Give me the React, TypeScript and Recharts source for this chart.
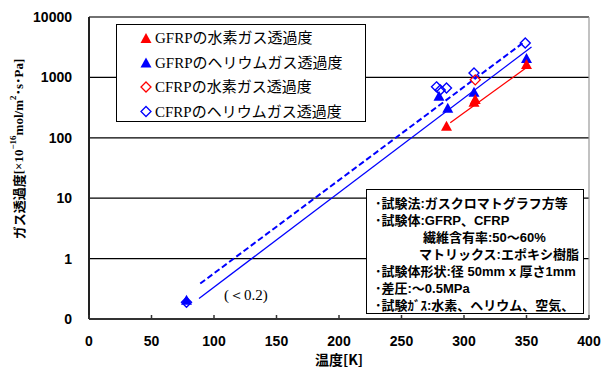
import { ComposedChart, Line, Scatter, XAxis, YAxis, CartesianGrid, Legend, ReferenceLine } from 'recharts'

const RED = '#ff0000'
const BLUE = '#0000ff'

// temperature [K] / permeability [x1e-16 mol/m2.s.Pa]
const gfrpH2Temp = [286, 308, 309, 350]
const gfrpH2Perm = [152, 379, 424, 1610]

const gfrpHeTemp = [78, 280, 287, 308, 350]
const gfrpHePerm = [0.2, 476, 302, 555, 2020]

const cfrpH2Temp = [309]
const cfrpH2Perm = [910]

const cfrpHeTemp = [78, 278, 281, 286, 308, 349]
const cfrpHePerm = [0.19, 697, 621, 670, 1186, 3720]

// fitted trend lines (end points)
const fitHeCfrpTemp = [89, 347]
const fitHeCfrpPerm = [0.386, 3700]
const fitHeGfrpTemp = [88, 354]
const fitHeGfrpPerm = [0.218, 3190]
const fitH2GfrpTemp = [289, 352]
const fitH2GfrpPerm = [177, 1560]

const xTicks = [0, 50, 100, 150, 200, 250, 300, 350, 400]
const yTicks = [0.1, 1, 10, 100, 1000, 10000]

const legendItems = [
  { name: 'GFRPの水素ガス透過度', color: RED, shape: 'tri' },
  { name: 'GFRPのヘリウムガス透過度', color: BLUE, shape: 'tri' },
  { name: 'CFRPの水素ガス透過度', color: RED, shape: 'dia' },
  { name: 'CFRPのヘリウムガス透過度', color: BLUE, shape: 'dia' },
]

const noteLines = [
  { text: '･試験法:ガスクロマトグラフ方等', indent: 0 },
  { text: '･試験体:GFRP、CFRP', indent: 0 },
  { text: '繊維含有率:50～60%', indent: 48 },
  { text: 'マトリックス:エポキシ樹脂', indent: 44 },
  { text: '･試験体形状:径 50mm x 厚さ1mm', indent: 0 },
  { text: '･差圧:～0.5MPa', indent: 0 },
  { text: '･試験ｶﾞｽ:水素、ヘリウム、空気、', indent: 0 },
]

const zip = (ts: number[], vs: number[]) => ts.map((t, i) => ({ t, v: vs[i] }))

const triPoints = (cx: number, cy: number) =>
  `${cx},${cy - 6} ${cx - 5.5},${cy + 4} ${cx + 5.5},${cy + 4}`
const diaPoints = (cx: number, cy: number) =>
  `${cx},${cy - 5} ${cx + 5},${cy} ${cx},${cy + 5} ${cx - 5},${cy}`

const makeTri = (color: string) => (p: any) => <polygon points={triPoints(p.cx, p.cy)} fill={color} />
const makeDia = (color: string) => (p: any) => (
  <polygon points={diaPoints(p.cx, p.cy)} fill="none" stroke={color} strokeWidth={1.4} />
)

function XTick({ x, y, payload }: any) {
  return (
    <g>
      <line x1={x} x2={x} y1={y} y2={y - 4} stroke="#333" strokeWidth={1.5} />
      <text x={x} y={y + 27} textAnchor="middle" fontSize={14} fontWeight="bold" fontFamily="'Liberation Sans', Arial, sans-serif" fill="#000">
        {payload.value}
      </text>
    </g>
  )
}

function LegendBox() {
  return (
    <div style={{ width: 250, height: 98, border: '1px solid #000', background: '#fff', boxSizing: 'border-box' }}>
      <svg width={248} height={96}>
        {legendItems.map((it, i) => {
          const cy = 13 + i * 24.5
          return (
            <g key={it.name}>
              {it.shape === 'tri' ? (
                <polygon points={triPoints(29, cy + 1)} fill={it.color} />
              ) : (
                <polygon points={diaPoints(29, cy)} fill="none" stroke={it.color} strokeWidth={1.3} />
              )}
              <text x={38} y={cy} dominantBaseline="central" fontSize={15} fontFamily="'Liberation Serif', 'Noto Sans CJK JP', serif" fill="#000">
                {it.name}
              </text>
            </g>
          )
        })}
      </svg>
    </div>
  )
}

export default function App() {
  return (
    <div style={{ position: 'absolute', left: 0, top: 0, width: 601, height: 370, background: '#fff' }}>
      <ComposedChart width={601} height={370} margin={{ top: 17, right: 12, bottom: 0, left: 0 }}>
        <CartesianGrid vertical={false} stroke="#000" strokeWidth={1.2} />
        <XAxis
          type="number"
          dataKey="t"
          domain={[0, 400]}
          ticks={xTicks}
          height={51}
          tickSize={0}
          tickMargin={0}
          tickLine={false}
          axisLine={{ stroke: '#333', strokeWidth: 2 }}
          tick={<XTick />}
          interval={0}
        />
        <YAxis
          type="number"
          scale="log"
          domain={[0.1, 10000]}
          allowDataOverflow
          ticks={yTicks}
          width={89}
          tickSize={0}
          tickMargin={17}
          tickLine={false}
          interval={0}
          axisLine={{ stroke: '#222', strokeWidth: 2 }}
          tickFormatter={(v: number) => (v === 0.1 ? '0' : String(v))}
          tick={{ fill: '#000', fontSize: 14, fontWeight: 'bold', fontFamily: "'Liberation Sans', Arial, sans-serif" }}
        />
        <ReferenceLine y={10000} stroke="#666" strokeWidth={1.2} />
        <ReferenceLine x={400} stroke="#999" strokeWidth={1.2} />
        <Line data={zip(fitHeCfrpTemp, fitHeCfrpPerm)} dataKey="v" stroke={BLUE} strokeWidth={2} strokeDasharray="6 3" dot={false} isAnimationActive={false} />
        <Line data={zip(fitHeGfrpTemp, fitHeGfrpPerm)} dataKey="v" stroke={BLUE} strokeWidth={1.3} dot={false} isAnimationActive={false} />
        <Line data={zip(fitH2GfrpTemp, fitH2GfrpPerm)} dataKey="v" stroke={RED} strokeWidth={1.3} dot={false} isAnimationActive={false} />
        <Scatter data={zip(cfrpHeTemp, cfrpHePerm)} dataKey="v" shape={makeDia(BLUE)} isAnimationActive={false} />
        <Scatter data={zip(cfrpH2Temp, cfrpH2Perm)} dataKey="v" shape={makeDia(RED)} isAnimationActive={false} />
        <Scatter data={zip(gfrpHeTemp, gfrpHePerm)} dataKey="v" shape={makeTri(BLUE)} isAnimationActive={false} />
        <Scatter data={zip(gfrpH2Temp, gfrpH2Perm)} dataKey="v" shape={makeTri(RED)} isAnimationActive={false} />
        <Legend
          layout="horizontal"
          verticalAlign="middle"
          align="center"
          content={() => <LegendBox />}
          wrapperStyle={{ left: 116, top: 24, width: 250, height: 98 }}
        />
      </ComposedChart>

      <div
        style={{
          position: 'absolute',
          left: 366,
          top: 189,
          width: 218,
          height: 125,
          border: '1px solid #000',
          background: '#fff',
          boxSizing: 'border-box',
          paddingTop: 5,
          paddingLeft: 8,
          fontFamily: "'Liberation Sans', 'Noto Sans CJK JP', sans-serif",
          fontWeight: 'bold',
          fontSize: 13,
          lineHeight: '17px',
          whiteSpace: 'nowrap',
        }}
      >
        {noteLines.map((l) => (
          <div key={l.text} style={{ paddingLeft: l.indent }}>{l.text}</div>
        ))}
      </div>

      <svg width={601} height={370} style={{ position: 'absolute', left: 0, top: 0, pointerEvents: 'none' }}>
        <text x={224} y={295} dominantBaseline="central" fontSize={15} fontFamily="'Liberation Serif', serif" fill="#000">
          (＜0.2)
        </text>
        <text x={339} y={359} textAnchor="middle" dominantBaseline="central" fontSize={14} fontWeight="bold" fontFamily="'Noto Sans CJK JP', sans-serif" fill="#000">
          温度[K]
        </text>
        <text
          x={18}
          y={149}
          transform="rotate(-90 18 149)"
          textAnchor="middle"
          dominantBaseline="central"
          fontSize={13}
          fontWeight="bold"
          fill="#000"
          fontFamily="'Liberation Serif', 'Noto Sans CJK JP', serif"
        >
          <tspan fontFamily="'Noto Sans CJK JP', sans-serif">ガス透過度</tspan>
          <tspan>[×10</tspan>
          <tspan fontSize={9} dy={-5}>−16</tspan>
          <tspan dy={5}>mol/m</tspan>
          <tspan fontSize={9} dy={-5}>2</tspan>
          <tspan dy={5}>･s･Pa]</tspan>
        </text>
      </svg>
    </div>
  )
}
